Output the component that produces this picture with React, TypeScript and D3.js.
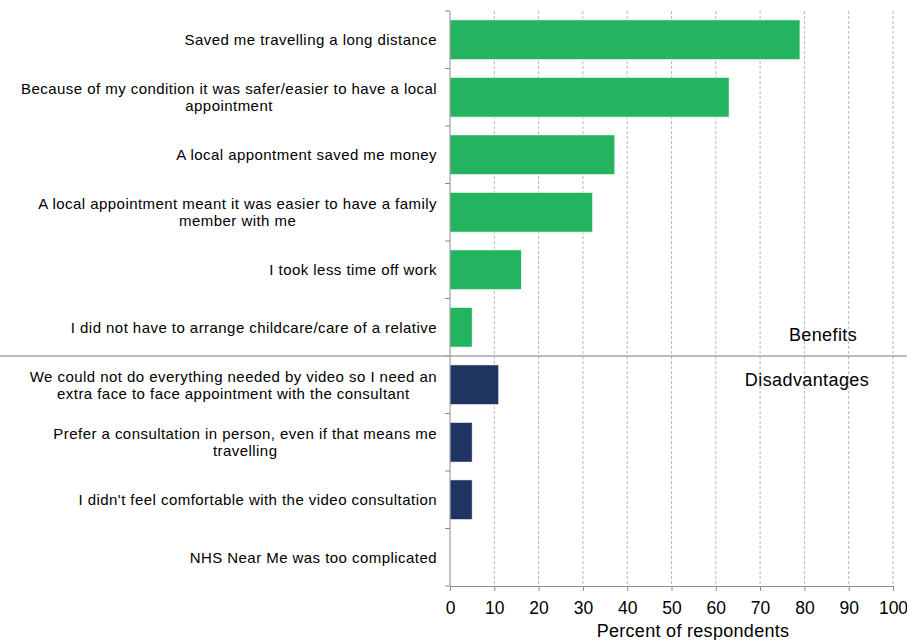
import { useEffect, useRef } from 'react';
import * as d3 from 'd3';

// categories top to bottom, each label split into its lines
const categories: string[][] = [
  ['Saved me travelling a long distance'],
  ['Because of my condition it was safer/easier to have a local', 'appointment'],
  ['A local appontment saved me money'],
  ['A local appointment meant it was easier to have a family', 'member with me'],
  ['I took less time off work'],
  ['I did not have to arrange childcare/care of a relative'],
  ['We could not do everything needed by video so I need an', 'extra face to face appointment with the consultant'],
  ['Prefer a consultation in person, even if that means me', 'travelling'],
  ["I didn't feel comfortable with the video consultation"],
  ['NHS Near Me was too complicated'],
];
const values: number[] = [79, 63, 37.2, 32.2, 16.1, 5, 11, 5, 5, 0];
const groups: string[] = ['Benefits', 'Benefits', 'Benefits', 'Benefits', 'Benefits', 'Benefits',
  'Disadvantages', 'Disadvantages', 'Disadvantages', 'Disadvantages'];
const xTicks: number[] = [0, 10, 20, 30, 40, 50, 60, 70, 80, 90, 100];

const W = 907;
const H = 640;
const FONT = '"Liberation Sans", Arial, sans-serif';

const App = () => {
  const svgRef = useRef<SVGSVGElement | null>(null);

  useEffect(() => {
    if (!svgRef.current) return;
    const svg = d3.select(svgRef.current);
    svg.selectAll('*').remove();

    const margin = { top: 11, left: 450, right: 14, bottom: 54 };
    const x = d3.scaleLinear().domain([0, 100]).range([margin.left, W - margin.right]);
    const y = d3.scaleBand<number>()
      .domain(d3.range(categories.length))
      .range([margin.top, H - margin.bottom])
      .paddingInner(0.31)
      .paddingOuter(0.155);
    const step = y.step();
    const bandTop = (i: number) => margin.top + step * i;
    const color = d3.scaleOrdinal<string, string>()
      .domain(['Benefits', 'Disadvantages'])
      .range(['#24b35f', '#1f3461']);

    // dashed gridlines
    svg.append('g')
      .selectAll('line')
      .data(xTicks.slice(1))
      .enter()
      .append('line')
      .attr('x1', d => x(d)).attr('x2', d => x(d))
      .attr('y1', margin.top).attr('y2', H - margin.bottom)
      .attr('stroke', '#b8b8b8')
      .attr('stroke-dasharray', '3,2');

    // bars
    svg.append('g')
      .selectAll('rect')
      .data(values)
      .enter()
      .append('rect')
      .attr('x', x(0))
      .attr('y', (_, i) => y(i)!)
      .attr('width', d => x(d) - x(0))
      .attr('height', y.bandwidth())
      .attr('fill', (_, i) => color(groups[i]))
      .attr('stroke', d => d > 0 ? '#ffffff' : 'none')
      .attr('stroke-width', 0.6);

    // y axis line + tick marks at band boundaries
    const axisColor = '#8c8c8c';
    svg.append('line')
      .attr('x1', x(0)).attr('x2', x(0))
      .attr('y1', margin.top).attr('y2', H - margin.bottom)
      .attr('stroke', axisColor);
    svg.append('g')
      .selectAll('line')
      .data(d3.range(categories.length + 1))
      .enter()
      .append('line')
      .attr('x1', x(0) - 5).attr('x2', x(0))
      .attr('y1', d => bandTop(d)).attr('y2', d => bandTop(d))
      .attr('stroke', axisColor);

    // x axis
    const xAxis = svg.append('g')
      .attr('transform', `translate(0,${H - margin.bottom})`)
      .call(d3.axisBottom(x).tickValues(xTicks).tickSize(5).tickPadding(11).tickFormat(d3.format('d')));
    xAxis.select('.domain').attr('stroke', axisColor);
    xAxis.selectAll('.tick line').attr('stroke', axisColor);
    xAxis.selectAll('.tick text')
      .attr('font-family', FONT)
      .attr('font-size', 17.5)
      .attr('fill', '#000');

    svg.append('text')
      .attr('x', 693)
      .attr('y', 637)
      .attr('text-anchor', 'middle')
      .attr('font-family', FONT)
      .attr('font-size', 18)
      .attr('letter-spacing', 0.3)
      .text('Percent of respondents');

    // category labels: right aligned block, lines centred within it
    const labelRight = 437;
    const lineH = 17;
    categories.forEach((lines, i) => {
      const cy = bandTop(i) + step / 2;
      const g = svg.append('g');
      const texts = lines.map((line, j) =>
        g.append('text')
          .attr('font-family', FONT)
          .attr('font-size', 15)
          .attr('letter-spacing', 0.45)
          .attr('dominant-baseline', 'central')
          .attr('y', cy + (j - (lines.length - 1) / 2) * lineH)
          .text(line));
      const widths = texts.map(t => (t.node() as SVGTextElement).getComputedTextLength());
      const maxW = d3.max(widths) || 0;
      const centre = labelRight - maxW / 2;
      texts.forEach(t => t.attr('x', centre).attr('text-anchor', 'middle'));
    });

    // group separator
    const sepY = bandTop(6);
    svg.append('line')
      .attr('x1', 0).attr('x2', W)
      .attr('y1', sepY).attr('y2', sepY)
      .attr('stroke', '#a6a6a6')
      .attr('stroke-width', 1.5);

    svg.append('text')
      .attr('x', 823).attr('y', sepY - 21)
      .attr('text-anchor', 'middle')
      .attr('dominant-baseline', 'central')
      .attr('font-family', FONT)
      .attr('font-size', 18)
      .attr('letter-spacing', 0.4)
      .text('Benefits');
    svg.append('text')
      .attr('x', 807).attr('y', sepY + 24)
      .attr('text-anchor', 'middle')
      .attr('dominant-baseline', 'central')
      .attr('font-family', FONT)
      .attr('font-size', 18)
      .attr('letter-spacing', 0.4)
      .text('Disadvantages');
  }, []);

  return (
    <svg ref={svgRef} width={W} height={H} style={{ display: 'block', position: 'absolute', left: 0, top: 0, background: '#fff' }}></svg>
  );
};

export default App;
